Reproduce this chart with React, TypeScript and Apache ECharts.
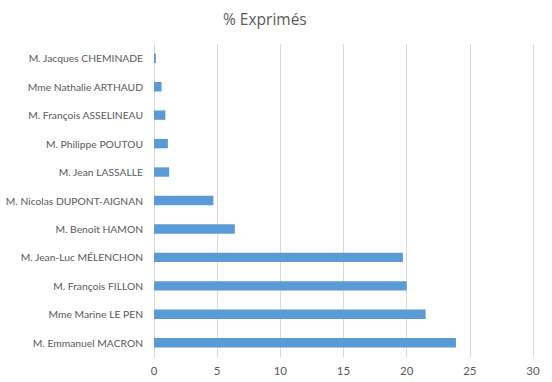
import React, { useEffect, useRef } from "react";
import * as echarts from "echarts";

const categories = [
  "M. Emmanuel MACRON",
  "Mme Marine LE PEN",
  "M. François FILLON",
  "M. Jean-Luc MÉLENCHON",
  "M. Benoît HAMON",
  "M. Nicolas DUPONT-AIGNAN",
  "M. Jean LASSALLE",
  "M. Philippe POUTOU",
  "M. François ASSELINEAU",
  "Mme Nathalie ARTHAUD",
  "M. Jacques CHEMINADE",
];
const values = [23.9, 21.5, 20.0, 19.7, 6.4, 4.7, 1.2, 1.1, 0.9, 0.6, 0.15];
const title = "% Exprimés";

export default function App() {
  const ref = useRef<HTMLDivElement>(null);
  useEffect(() => {
    const chart = echarts.init(ref.current!, null, { renderer: "svg" });
    chart.setOption({
      animation: false,
      backgroundColor: "#ffffff",
      title: {
        text: title,
        left: 218,
        top: 6,
        textStyle: { fontFamily: "Open Sans", fontSize: 15.5, fontWeight: "normal", color: "#595959" },
      },
      grid: { left: 154, right: 19, top: 44, bottom: 25, containLabel: false, outerBoundsMode: "none" },
      xAxis: {
        type: "value",
        min: 0,
        max: 30,
        interval: 5,
        axisLine: { show: false },
        axisTick: { show: false },
        splitLine: { lineStyle: { color: "#D9D9D9", width: 1 } },
        axisLabel: { color: "#595959", fontFamily: "Lato", fontSize: 11.5, margin: 7 },
      },
      yAxis: {
        type: "category",
        data: categories,
        axisLine: { lineStyle: { color: "#D9D9D9", width: 1 } },
        axisTick: { show: false },
        axisLabel: { color: "#595959", fontFamily: "Lato", fontSize: 10.3, margin: 11 },
      },
      series: [
        {
          type: "bar",
          data: values,
          barWidth: "33%",
          itemStyle: { color: "#5B9BD5" },
        },
      ],
    });
    return () => chart.dispose();
  }, []);
  return <div ref={ref} style={{ position: "fixed", left: 0, top: 0, width: 552, height: 382 }} />;
}
